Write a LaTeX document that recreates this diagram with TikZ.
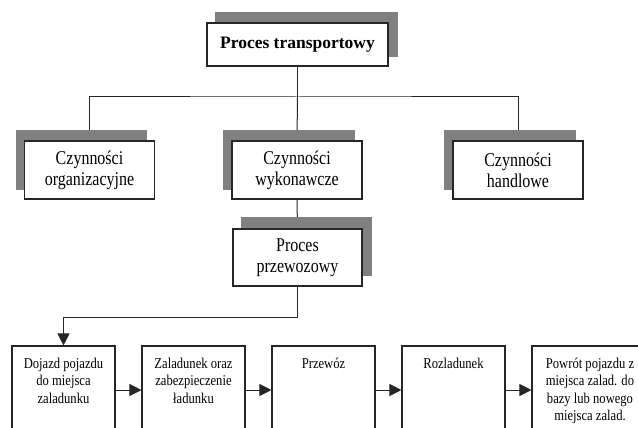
\documentclass[tikz,border=0pt]{standalone}
\usepackage{fontspec}
\setmainfont{Liberation Serif}
\newfontfamily\narrowfont[FakeStretch=0.82]{Liberation Serif}
\newfontfamily\stepfont[FakeStretch=0.84]{Liberation Serif}
\usetikzlibrary{shapes,backgrounds}
\usetikzlibrary{arrows.meta}
\pgfdeclarelayer{lines}
\pgfsetlayers{lines,background,main}

\begin{document}
\begin{tikzpicture}[x=1pt,y=-1pt,
  box/.style={draw=black!85, line width=1.3pt, fill=white, align=center, inner sep=2pt},
  topbox/.style={box, minimum width=181pt, minimum height=43pt, font=\bfseries\fontsize{17.5}{20}\selectfont},
  midbox/.style={box, minimum width=130pt, minimum height=58pt, font=\narrowfont\fontsize{19.5}{21}\selectfont},
  stepbox/.style={draw=black!85, line width=1.1pt, fill=white, inner sep=0pt, minimum height=88pt, font=\stepfont\fontsize{15}{17.5}\selectfont},
  shade/.style={fill=black!50},
  conn/.style={draw=black!85, line width=1pt},
  arr/.style={conn, -{Triangle[length=12pt,width=12pt]}}]

\useasboundingbox (0,0) rectangle (638,428);

\node[topbox] (trans) at (297.5,44.5) {Proces transportowy};
\node[midbox] (org) at (89.5,170) {Czynności\\organizacyjne};
\node[midbox] (wyk) at (297,170) {Czynności\\wykonawcze};
\node[midbox] (hand) at (518,170) {Czynności\\handlowe};
\node[midbox, minimum width=129pt, minimum height=57pt] (przew) at (297.5,257.5) {Proces\\przewozowy};

% etapy procesu przewozowego
\foreach \nm/\xx/\ww/\txt in {dojazd/63.5/103/{Dojazd pojazdu\\do miejsca\\zaladunku},
    zalad/193.5/103/{Zaladunek oraz\\zabezpieczenie\\ładunku},
    przewoz/323.5/103/{Przewóz},
    rozlad/453.5/103/{Rozladunek},
    powrot/590/116/{Powrót pojazdu z\\miejsca zalad. do\\bazy lub nowego\\miejsca zalad.}}{
    \node[stepbox, minimum width=\ww pt] (\nm) at (\xx,390)
      {\parbox[c][88pt][t]{\ww pt}{\vspace*{12pt}\centering\txt}};
}
\foreach \a/\b in {dojazd/zalad, zalad/przewoz, przewoz/rozlad, rozlad/powrot}
  \draw[arr] (\a.east) -- (\b.west);

\begin{pgfonlayer}{background}
 \fill[shade] ([shift={(9,-10)}]trans.south west) rectangle ([shift={(9,-10)}]trans.north east);
 \foreach \nm in {org,wyk,hand}
   \fill[shade] ([shift={(-8,-10)}]\nm.south west) rectangle ([shift={(-8,-10)}]\nm.north east);
 \fill[shade] ([shift={(9,-11)}]przew.south west) rectangle ([shift={(9,-11)}]przew.north east);
\end{pgfonlayer}

\begin{pgfonlayer}{lines}
 \coordinate (split) at (297.5,97);
 \coordinate (bend) at (63.5,317);
 \draw[conn] (trans.south) -- (split);
 \draw[conn] (org.north) |- (split) -| (hand.north);
 \draw[conn] (split) -- (wyk.north);
 \draw[conn] (wyk.south) -- (przew.north);
 \draw[arr] (przew.south) |- (bend) -- (dojazd.north);
\end{pgfonlayer}
\end{tikzpicture}
\end{document}
